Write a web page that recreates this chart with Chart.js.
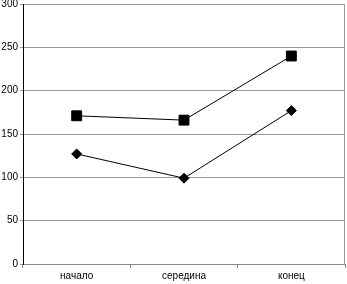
<!DOCTYPE html>
<html><head><meta charset="utf-8">
<script src="https://cdn.jsdelivr.net/npm/chart.js@4"></script>
<style>html,body{margin:0;padding:0;background:#fff}#w{width:347px;height:284px}</style>
</head><body><div id="w"><canvas id="c"></canvas></div>
<script>
const categories = ['начало', 'середина', 'конец'];
const squareSeries = [171, 166, 240];
const diamondSeries = [127, 99, 177];
const yTicks = [0, 50, 100, 150, 200, 250, 300];

const rightBorder = {
  id: 'rightBorder',
  afterDatasetsDraw(chart) {
    const a = chart.chartArea, ctx = chart.ctx;
    ctx.save();
    ctx.strokeStyle = '#999';
    ctx.lineWidth = 1;
    ctx.beginPath();
    ctx.moveTo(Math.round(a.right) - 0.5, a.top);
    ctx.lineTo(Math.round(a.right) - 0.5, a.bottom);
    ctx.stroke();
    ctx.restore();
  }
};

new Chart(document.getElementById('c'), {
  type: 'line',
  data: {
    labels: categories,
    datasets: [
      { data: squareSeries, borderColor: '#000', backgroundColor: '#000', borderWidth: 1,
        pointStyle: 'rect', pointRadius: 7, pointHoverRadius: 7, tension: 0 },
      { data: diamondSeries, borderColor: '#000', backgroundColor: '#000', borderWidth: 1,
        pointStyle: 'rectRot', pointRadius: 5, pointHoverRadius: 5, tension: 0 }
    ]
  },
  options: {
    responsive: true, maintainAspectRatio: false, animation: false,
    layout: { autoPadding: false, padding: { left: 0, right: 2, top: 4, bottom: 0 } },
    plugins: { legend: { display: false }, tooltip: { enabled: false } },
    scales: {
      x: {
        offset: true,
        grid: { offset: true, drawOnChartArea: false, drawTicks: true, tickLength: 4, color: '#888' },
        border: { color: '#888' },
        ticks: { color: '#000', font: { family: 'Liberation Sans', size: 10 }, padding: 2 },
        afterFit: s => { s.height = 20; s.paddingLeft = 0; s.paddingRight = 0; }
      },
      y: {
        min: 0, max: 300,
        afterBuildTicks: s => { s.ticks = yTicks.map(v => ({ value: v })); },
        grid: { color: '#999', drawTicks: true, tickLength: 3 },
        border: { color: '#000' },
        ticks: { color: '#000', font: { family: 'Liberation Sans', size: 10 }, padding: 2 },
        afterFit: s => { s.width = 23; s.paddingTop = 0; s.paddingBottom = 0; }
      }
    }
  },
  plugins: [rightBorder]
});
</script></body></html>
